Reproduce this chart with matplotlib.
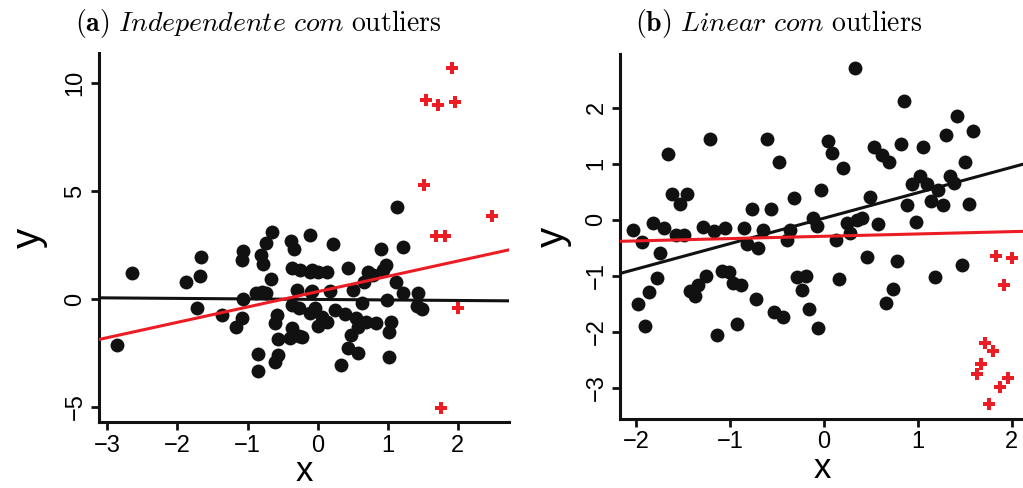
import numpy as np
import matplotlib
matplotlib.use('Agg')
import matplotlib.pyplot as plt

plt.rcParams['font.family'] = ['Liberation Sans', 'DejaVu Sans']
plt.rcParams['mathtext.fontset'] = 'cm'

# painel (a): independente com outliers
xa = [-2.869, -2.644, -1.883, -1.680, -1.662, -1.723, -1.366, -1.169, -1.075, -1.061,
      -1.085, -1.061, -0.849, -0.849, -0.803, -0.775, -0.732, -0.658, -0.662, -0.883,
      -0.789, -0.732, -0.577, -0.610, -0.559, -0.563, -0.610, -0.380, -0.334, -0.366,
      -0.249, -0.296, -0.366, -0.272, -0.108, -0.366, -0.272, -0.390, -0.108, -0.108,
      -0.099, 0.221, -0.085, 0.010, 0.127, 0.432, 0.714, 0.666, 0.785, 0.901,
      1.215, 0.972, 0.939, 1.123, -0.085, 0.173, 0.511, 1.215, 1.432, 0.996,
      0.630, 1.418, 1.489, -0.038, 0.056, 0.244, 0.385, 0.010, 0.127, 0.549,
      0.690, 0.831, 0.573, 1.042, 1.018, 0.469, 0.432, 0.573, 0.328, 1.018,
      -0.225, 1.137]
ya = [-2.13, 1.19, 0.79, 1.06, 1.96, -0.42, -0.75, -1.31, -0.89, -0.01,
      1.82, 2.22, -2.55, -3.32, 2.04, 1.61, 2.61, 3.10, 0.94, 0.29,
      0.34, 0.29, -0.74, -1.10, -1.87, -2.59, -2.93, 2.70, 2.31, 1.45,
      1.34, 0.42, -0.28, -0.43, -0.66, -1.36, -1.71, -1.82, 2.96, 1.26,
      0.34, 2.53, 1.34, 1.26, 1.24, 1.42, 1.26, 0.80, 1.11, 2.31,
      2.42, 1.57, 1.34, 0.80, 0.38, 0.38, 0.42, 0.26, 0.29, -0.05,
      -0.20, -0.32, -0.48, -0.43, -0.82, -0.51, -0.71, -1.25, -1.05, -0.89,
      -1.05, -1.13, -1.28, -1.05, -1.51, -1.67, -2.28, -2.51, -3.06, -2.67,
      -1.75, 4.27]
xa_out = [1.910, 1.545, 1.714, 1.962, 1.521, 2.493, 1.690, 1.821, 1.996, 1.756]
ya_out = [10.71, 9.21, 8.98, 9.11, 5.28, 3.86, 2.93, 2.93, -0.43, -5.06]
# retas ajustadas (intercepto, inclinacao)
fit_a_sem = [-0.02, -0.024]
fit_a_com = [0.34, 0.71]

# painel (b): linear com outliers
xb = [-2.029, -1.939, -1.822, -1.699, -1.656, -1.620, -1.532, -1.454, -1.578, -1.489,
      -1.745, -1.290, -1.213, -1.167, -1.053, -0.848, -0.766, -0.603, -0.479, -0.561,
      -0.646, -0.362, -0.319, -0.397, -0.114, -0.078, -0.035, -0.816, -0.699, 0.330,
      0.854, 0.046, 0.082, 0.205, 0.532, 0.614, 0.691, 0.816, 1.056, 1.422,
      1.298, 1.582, 1.500, 1.021, 0.933, 1.093, 1.340, 1.383, 1.216, 0.489,
      0.890, 1.138, 1.263, 1.546, 0.241, 0.348, 0.407, 0.571, 0.976, 0.277,
      0.128, -1.780, -1.862, -1.982, -1.904, -1.255, -1.337, -1.426, -1.372, -1.088,
      -1.007, -0.971, -0.886, -0.727, -1.135, -0.929, -0.529, -0.439, -0.284, -0.195,
      -0.237, -0.160, -0.061, 0.163, 0.454, 0.773, 0.731, 0.656, 1.181, 1.465]
yb = [-0.18, -0.40, -0.06, -0.15, 1.17, 0.46, 0.28, 0.46, -0.27, -0.28,
      -0.60, -0.13, 1.44, -0.21, -0.15, -0.15, 0.19, 1.44, 1.03, 0.20,
      -0.18, -0.18, 0.39, -0.37, 0.03, -0.12, 0.53, -0.44, -0.50, 2.71,
      2.12, 1.41, 1.20, 0.93, 1.29, 1.16, 1.03, 1.35, 1.30, 1.85,
      1.52, 1.58, 1.03, 0.78, 0.64, 0.64, 0.78, 0.66, 0.53, 0.41,
      0.27, 0.34, 0.27, 0.28, -0.05, -0.01, 0.03, -0.07, -0.04, -0.23,
      -0.37, -1.04, -1.29, -1.51, -1.90, -1.01, -1.17, -1.28, -1.36, -0.92,
      -0.94, -1.13, -1.17, -1.41, -2.06, -1.86, -1.65, -1.73, -1.02, -1.01,
      -1.25, -1.59, -1.93, -1.06, -0.67, -0.73, -1.23, -1.48, -1.02, -0.81]
xb_out = [1.837, 1.997, 1.918, 1.720, 1.795, 1.670, 1.631, 1.961, 1.872, 1.755]
yb_out = [-0.64, -0.69, -1.17, -2.21, -2.35, -2.58, -2.75, -2.83, -2.98, -3.30]
fit_b_sem = [0.027, 0.455]
fit_b_com = [-0.296, 0.0415]

preto = '#111111'
vermelho = '#ec1c24'

fig = plt.figure(figsize=(10.23, 4.88), dpi=100)
ax1 = fig.add_axes([99 / 1023, 66 / 488, 410 / 1023, 369 / 488])
ax2 = fig.add_axes([620 / 1023, 69 / 488, 404 / 1023, 365 / 488])


def painel(ax, x, y, xo, yo, f_sem, f_com, xlim, ylim, xt, yt, ypad):
    ax.scatter(x, y, s=100, color=preto, zorder=3, linewidths=0)
    ax.scatter(xo, yo, s=80, marker='P', color=vermelho, zorder=3, linewidths=0)
    xx = np.array(xlim)
    ax.plot(xx, f_sem[0] + f_sem[1] * xx, color=preto, lw=2.2, zorder=4)
    ax.plot(xx, f_com[0] + f_com[1] * xx, color=vermelho, lw=2.2, zorder=4)
    ax.set_xlim(xlim)
    ax.set_ylim(ylim)
    ax.set_xticks(xt)
    ax.set_yticks(yt)
    for s in ['top', 'right']:
        ax.spines[s].set_visible(False)
    for s in ['left', 'bottom']:
        ax.spines[s].set_linewidth(2.2)
        ax.spines[s].set_color(preto)
    ax.tick_params(width=2, length=6, labelsize=17, pad=3, color=preto)
    for lab in ax.get_yticklabels():
        lab.set_rotation(90)
        lab.set_va('center')
    ax.set_xlabel('x', fontsize=25, labelpad=-1)
    ax.set_ylabel('y', fontsize=29, labelpad=ypad)


painel(ax1, xa, ya, xa_out, ya_out, fit_a_sem, fit_a_com,
       (-3.12, 2.73), (-5.7, 11.4), [-3, -2, -1, 0, 1, 2], [-5, 0, 5, 10], 12)
painel(ax2, xb, yb, xb_out, yb_out, fit_b_sem, fit_b_com,
       (-2.17, 2.13), (-3.56, 2.96), [-2, -1, 0, 1, 2], [-3, -2, -1, 0, 1, 2], 10)

fig.text(258 / 1023, 0.936, r'$\mathbf{(a)}\ \mathit{Independente\ com}\ \mathrm{outliers}$',
         ha='center', va='baseline', fontsize=20)
fig.text(779 / 1023, 0.936, r'$\mathbf{(b)}\ \mathit{Linear\ com}\ \mathrm{outliers}$',
         ha='center', va='baseline', fontsize=20)

fig.savefig('out.png', dpi=100)
